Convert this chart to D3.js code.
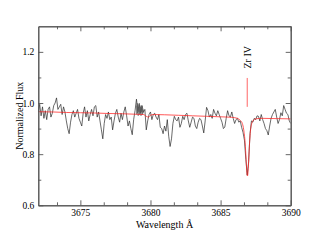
<!DOCTYPE html>
<html>
<head>
<meta charset="utf-8">
<script src="https://cdn.jsdelivr.net/npm/d3@7"></script>
<style>
  body { margin: 0; background: #fff; }
  svg { display: block; }
  text { font-family: "Liberation Serif", "Times New Roman", serif; fill: #000; }
</style>
</head>
<body>
<svg id="chart"></svg>
<script>
// observed spectrum, uniform 0.1 A sampling from 3672.0 to 3690.0
const obsStart = 3672.0;
const obsStep = 0.1;
const obsFlux = [
  0.965, 0.995, 0.95, 0.985, 0.94, 0.97, 0.935, 0.975, 0.985, 0.945,
  0.96, 0.99, 1.0, 1.02, 0.975, 0.985, 0.995, 0.955, 0.985, 0.965,
  0.93, 0.9, 0.88, 0.925, 0.955, 0.97, 0.945, 0.96, 0.975, 0.94,
  0.925, 0.91, 0.96, 0.985, 0.945, 0.97, 0.93, 0.955, 0.975, 0.95,
  0.985, 0.99, 0.945, 0.965, 0.93, 0.895, 0.86, 0.92, 0.955, 0.94,
  0.965, 0.935, 0.945, 0.895, 0.93, 0.96, 0.975, 0.945, 0.925, 0.96,
  0.935, 0.965, 0.985, 0.95, 0.91, 0.93, 0.9, 0.876, 0.935, 0.97,
  1.015, 0.97, 0.995, 0.96, 0.99, 0.965, 0.975, 0.895, 0.93, 0.955,
  0.965, 0.935, 0.955, 0.96, 0.945, 0.935, 0.955, 0.905, 0.9, 0.88,
  0.91, 0.89, 0.935, 0.87, 0.83, 0.86, 0.92, 0.948, 0.935, 0.93,
  0.945, 0.905, 0.92, 0.948, 0.935, 0.955, 0.96, 0.93, 0.905, 0.925,
  0.945, 0.94, 0.91, 0.9, 0.925, 0.94, 0.935, 0.91, 0.883, 0.93,
  0.983, 0.97, 0.945, 0.955, 0.94, 0.975, 0.96, 0.95, 0.97, 0.955,
  0.94, 0.925, 0.9, 0.906, 0.94, 0.97, 0.95, 0.945, 0.965, 0.94,
  0.92, 0.935, 0.94, 0.925, 0.93, 0.905, 0.885, 0.855, 0.78, 0.718,
  0.77, 0.88, 0.93, 0.925, 0.94, 0.935, 0.95, 0.948, 0.93, 0.955,
  0.935, 0.92, 0.9, 0.892, 0.875, 0.91, 0.94, 0.955, 0.965, 0.975,
  0.945, 0.92, 0.935, 0.962, 0.95, 0.99, 0.975, 0.96, 0.955, 0.93,
  0.92
];

// finer overlapping piece around 3679.0 - 3679.5 (the dense grey patch)
const denseStart = 3679.0;
const denseStep = 0.025;
const denseFlux = [
  0.99, 0.955, 1.0, 0.96, 0.995, 0.95, 0.985, 0.965, 1.0, 0.955,
  0.99, 0.96, 0.985, 0.95, 0.99, 0.965, 0.98, 0.955, 0.975, 0.96, 0.97
];

// synthetic model
const modelWave = [3672, 3673, 3674, 3675, 3676, 3677, 3678, 3679, 3679.5, 3679.7,
  3679.85, 3680.0, 3680.2, 3681, 3682, 3683, 3684, 3685, 3685.8, 3686.2,
  3686.4, 3686.55, 3686.65, 3686.75, 3686.82, 3686.88, 3686.92, 3686.98, 3687.05, 3687.15,
  3687.3, 3687.5, 3688, 3689, 3690];
const modelFlux = [0.966, 0.965, 0.963, 0.962, 0.961, 0.959, 0.958, 0.956, 0.955, 0.948,
  0.945, 0.952, 0.955, 0.954, 0.952, 0.950, 0.948, 0.946, 0.944, 0.940,
  0.932, 0.92, 0.895, 0.845, 0.78, 0.725, 0.715, 0.75, 0.83, 0.9,
  0.93, 0.938, 0.94, 0.939, 0.938];

// line identification
const lineLabel = "Zr IV";
const lineWave = 3686.9;
const lineMarkTop = 1.098;
const lineMarkBottom = 0.985;
const lineLabelFlux = 1.135;

const xMajor = [3675, 3680, 3685, 3690];
const xMinor = [3673.333, 3676.667, 3678.333, 3681.667, 3683.333, 3686.667, 3688.333];
const yMajor = [0.6, 0.8, 1.0, 1.2];
const yMinor = [0.7, 0.9, 1.1];

const W = 330, H = 244;
const margin = { top: 26.3, right: 39.3, bottom: 38.7, left: 38.3 };
const width = W - margin.left - margin.right;
const height = H - margin.top - margin.bottom;

const svg = d3.select('#chart').attr('width', W).attr('height', H);
const g = svg.append('g').attr('transform', `translate(${margin.left},${margin.top})`);

const x = d3.scaleLinear().domain([3672, 3690]).range([0, width]);
const y = d3.scaleLinear().domain([0.6, 1.3]).range([height, 0]);

const obs = obsFlux.map((f, i) => [obsStart + i * obsStep, f]);
const dense = denseFlux.map((f, i) => [denseStart + i * denseStep, f]);
const model = modelWave.map((w, i) => [w, modelFlux[i]]);

svg.append('clipPath').attr('id', 'plotclip')
  .append('rect').attr('width', width).attr('height', height);

const line = d3.line().x(d => x(d[0])).y(d => y(d[1]));
const plot = g.append('g').attr('clip-path', 'url(#plotclip)');

plot.append('path').datum(obs)
  .attr('d', line)
  .attr('fill', 'none')
  .attr('stroke', '#2a2a2a')
  .attr('stroke-width', 0.7);

plot.append('path').datum(dense)
  .attr('d', line)
  .attr('fill', 'none')
  .attr('stroke', '#555')
  .attr('stroke-width', 0.6);

plot.append('path').datum(model)
  .attr('d', line.curve(d3.curveMonotoneX))
  .attr('fill', 'none')
  .attr('stroke', '#f22')
  .attr('stroke-width', 0.75);

// line marker + label
g.append('line')
  .attr('x1', x(lineWave)).attr('x2', x(lineWave))
  .attr('y1', y(lineMarkTop)).attr('y2', y(lineMarkBottom))
  .attr('stroke', '#f33')
  .attr('stroke-width', 0.75);

g.append('text')
  .attr('transform', `translate(${x(lineWave) + 3.5},${y(lineLabelFlux)}) rotate(-90)`)
  .attr('text-anchor', 'start')
  .style('font-size', '10px')
  .text(lineLabel);

// axes, ticks pointing inward
const axisColor = '#555';
function styleAxis(sel) {
  sel.select('.domain').attr('stroke', axisColor).attr('stroke-width', 1);
  sel.selectAll('.tick line').attr('stroke', axisColor).attr('stroke-width', 0.9);
  sel.selectAll('.tick text').style('font-size', '9.5px').attr('fill', '#000')
    .style('font-family', '"Liberation Serif", "Times New Roman", serif');
}

g.append('g').attr('transform', `translate(0,${height})`)
  .call(d3.axisBottom(x).tickValues(xMajor).tickFormat(d3.format('d')).tickSize(-5).tickSizeOuter(0).tickPadding(4))
  .call(styleAxis);
g.append('g').attr('transform', `translate(0,${height})`)
  .call(d3.axisBottom(x).tickValues(xMinor).tickFormat('').tickSize(-3).tickSizeOuter(0))
  .call(styleAxis);
g.append('g')
  .call(d3.axisTop(x).tickValues(xMajor).tickFormat('').tickSize(-5).tickSizeOuter(0))
  .call(styleAxis);
g.append('g')
  .call(d3.axisTop(x).tickValues(xMinor).tickFormat('').tickSize(-3).tickSizeOuter(0))
  .call(styleAxis);

g.append('g')
  .call(d3.axisLeft(y).tickValues(yMajor).tickFormat(d3.format('.1f')).tickSize(-5).tickSizeOuter(0).tickPadding(4))
  .call(styleAxis);
g.append('g')
  .call(d3.axisLeft(y).tickValues(yMinor).tickFormat('').tickSize(-3).tickSizeOuter(0))
  .call(styleAxis);
g.append('g').attr('transform', `translate(${width},0)`)
  .call(d3.axisRight(y).tickValues(yMajor).tickFormat('').tickSize(-5).tickSizeOuter(0))
  .call(styleAxis);
g.append('g').attr('transform', `translate(${width},0)`)
  .call(d3.axisRight(y).tickValues(yMinor).tickFormat('').tickSize(-3).tickSizeOuter(0))
  .call(styleAxis);

// axis titles
svg.append('text')
  .attr('x', margin.left + width / 2)
  .attr('y', 228)
  .attr('text-anchor', 'middle')
  .style('font-size', '10px')
  .text('Wavelength Å');

svg.append('text')
  .attr('transform', `translate(22.5,${margin.top + height / 2}) rotate(-90)`)
  .attr('text-anchor', 'middle')
  .style('font-size', '10px')
  .text('Normalized Flux');
</script>
</body>
</html>
